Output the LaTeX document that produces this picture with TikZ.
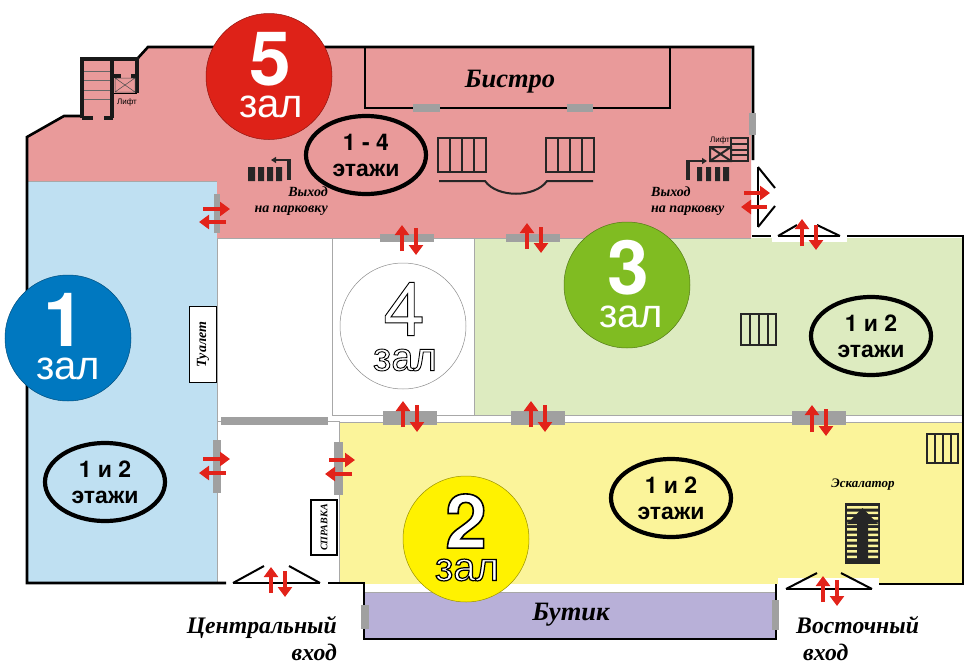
\documentclass[tikz,border=0pt]{standalone}
\usepackage{fontspec}
\setmainfont{Liberation Serif}
\setsansfont{Liberation Sans}
\newfontfamily\digitfont{TeX Gyre Heros}
\usetikzlibrary{arrows.meta, positioning, shapes.geometric}
\definecolor{hallred}{HTML}{E99A9A}
\definecolor{hallblue}{HTML}{BFE0F2}
\definecolor{hallgreen}{HTML}{DDEBC0}
\definecolor{hallyellow}{HTML}{FBF49A}
\definecolor{hallpurple}{HTML}{B8B0D8}
\definecolor{doorgray}{HTML}{A0A0A0}
\definecolor{thingray}{HTML}{A8A8A8}
\definecolor{arrowred}{HTML}{E2231A}
\definecolor{discred}{HTML}{DE2218}
\definecolor{discblue}{HTML}{0078C0}
\definecolor{discgreen}{HTML}{80BC22}
\definecolor{discyellow}{HTML}{FFF200}
% white letters with a black edge
\newcommand{\edgedtext}[2]{\special{pdf:code 2 Tr #1 w 0 G 1 g}#2\special{pdf:code 0 Tr}}

\begin{document}
\begin{tikzpicture}[
  x=1pt, y=-1pt,
  wall line/.style={draw=black, line width=2.6pt},
  stair wall/.style={draw=black!90, line width=3.6pt},
  thin wall/.style={draw=thingray, line width=0.9pt},
  leaf line/.style={draw=black, line width=2pt},
  door slab/.style={fill=doorgray},
  pass arrow/.style={draw=arrowred, line width=3.2pt, -{Triangle[length=10pt,width=14pt]}},
  stair box/.style={draw=black!85, line width=2pt},
  stair bar/.style={fill=black!85},
  hall disc/.style={circle, minimum size=126pt, inner sep=0pt, line width=0.5pt},
  hall digit/.style={font=\fontsize{75}{75}\selectfont\digitfont\bfseries, inner sep=0pt},
  hall word/.style={font=\fontsize{40}{40}\selectfont\sffamily, inner sep=0pt},
  floor oval/.style={ellipse, draw=black, line width=4.2pt, minimum width=120pt, minimum height=78pt, inner sep=0pt,
    align=center, font=\fontsize{23}{26}\selectfont\sffamily\bfseries},
  shop label/.style={font=\fontsize{26.5}{26.5}\selectfont\bfseries\itshape, inner sep=0pt},
  entry label/.style={font=\fontsize{23.7}{27}\selectfont\bfseries\itshape, inner sep=0pt},
  exit label/.style={font=\fontsize{14}{16}\selectfont\bfseries\itshape, inner sep=0pt},
  desk box/.style={draw=black, line width=1.4pt, fill=white, inner sep=0pt, rotate=90,
    font=\fontsize{10}{10}\selectfont\bfseries\itshape},
  lift label/.style={font=\fontsize{8}{8}\selectfont\sffamily, inner sep=0pt}
]
  \useasboundingbox (0,0) rectangle (970,664);

  % floors
  \fill[hallred] (27,137) -- (64,116) -- (82,116) -- (82,58) -- (138,58) -- (148,47) -- (751,47) -- (751,238) -- (217,238) -- (217,181) -- (27,181) -- cycle;
  \fill[hallblue] (27,181) rectangle (217,583);
  \fill[hallgreen] (474,238) rectangle (962,415);
  \fill[hallyellow] (339,422) rectangle (962,584);
  \fill[hallpurple] (364,592) rectangle (776,639);
  \fill[white] (778,578) rectangle (879,590);
  \fill[white] (772,233) rectangle (847,242);

  % thin walls
  \draw[thin wall] (217,238) -- (751,238);
  \draw[thin wall] (217,238) -- (217,583);
  \draw[thin wall] (332,238) -- (332,415) -- (474,415) -- (474,238);
  \draw[thin wall] (474,415) -- (962,415);
  \draw[thin wall] (217,421) -- (339,421) -- (339,583);
  \draw[thin wall] (339,422) -- (962,422);
  \draw[thin wall] (364,592) -- (776,592);
  \draw[thin wall] (27,181) -- (217,181);

  % outer walls
  \draw[wall line] (226,583) -- (27,583) -- (27,137) -- (64,116) -- (82,116);
  \draw[wall line] (138,58) -- (148,47) -- (753,47) -- (753,160);
  \draw[wall line] (328,583) -- (364,583) -- (364,639) -- (776,639) -- (776,584);
  \draw[wall line] (879,584) -- (963,584) -- (963,236) -- (847,236);
  \draw[wall line] (752,236) -- (771,236);

  % Bistro
  \draw[wall line, line width=2pt] (365,47) -- (365,108) -- (670,108) -- (670,47);
  \node[shop label] (bistro) at (510,82) {Бистро};
  \fill[door slab] (413,104) rectangle (440,112);
  \fill[door slab] (567,104) rectangle (593,112);

  % left lift and stairs
  \draw[stair wall] (82,118) -- (82,59) -- (137,59) -- (137,93);
  \draw[stair wall] (112,59) -- (112,118);
  \draw[stair wall] (82,118) -- (93,118);
  \draw[stair wall] (104,118) -- (113,118);
  \draw[stair wall] (114,76) -- (121,76);
  \draw[stair wall] (131,76) -- (137,76);
  \draw[black, line width=0.8pt] (114,93) -- (137,93);
  \draw[black!70, line width=0.5pt] (115,78) rectangle (135,92) (115,78) -- (135,92) (115,92) -- (135,78);
  \draw[black!60, line width=0.6pt] (84,71) -- (110,71) (84,80) -- (110,80) (84,90) -- (110,90) (84,99) -- (110,99);
  \node[lift label] (lift left) at (127,102) {Лифт};

  % left exit
  \fill[stair bar] (248,167) rectangle (255,181) (258,167) rectangle (264,181) (267,167) rectangle (273,181) (276,167) rectangle (282,181);
  \fill[stair bar] (287,160) rectangle (291,180);
  \draw[black!85, line width=1.5pt, -{Triangle[length=5pt,width=6pt]}] (291,160) -- (271,160);
  \node[exit label, align=right, anchor=north east] (exit left) at (328,187) {Выход\\на парковку};

  % centre stairs
  \draw[stair box] (438,138) rectangle (486,172) (450,138) -- (450,172) (462,138) -- (462,172) (474,138) -- (474,172);
  \draw[stair box] (546,138) rectangle (594,172) (558,138) -- (558,172) (570,138) -- (570,172) (582,138) -- (582,172);
  \draw[stair box] (439,181) -- (485,181) .. controls (497,198) and (535,198) .. (547,181) -- (593,181);

  % right exit, lift and stairs
  \fill[door slab] (749,113) rectangle (756,135);
  \draw[black!85, line width=2pt] (710,147) rectangle (731,161) (710,147) -- (731,161) (710,161) -- (731,147);
  \draw[black!85, line width=2pt] (731,138) rectangle (748,161) (731,144) -- (748,144) (731,150) -- (748,150) (731,155) -- (748,155);
  \node[lift label] (lift right) at (720,140) {Лифт};
  \fill[stair bar] (697,167) rectangle (702,181) (706,167) rectangle (711,181) (715,167) rectangle (720,181) (723,167) rectangle (729,181);
  \fill[stair bar] (686,161) rectangle (690,180);
  \draw[black!85, line width=1.5pt, -{Triangle[length=5pt,width=6pt]}] (686,161) -- (707,161);
  \node[exit label, align=left, anchor=north west] (exit right) at (651,187) {Выход\\на парковку};

  % doors of hall 5
  \fill[door slab] (214,194) rectangle (220,233);
  \draw[pass arrow] (203,209) -- (230,209);
  \draw[pass arrow] (226,222) -- (199,222);
  \fill[door slab] (380,234) rectangle (434,242);
  \draw[pass arrow] (402,251) -- (402,225);
  \draw[pass arrow] (416,228) -- (416,255);
  \fill[door slab] (506,234) rectangle (560,242);
  \draw[pass arrow] (527,249) -- (527,223);
  \draw[pass arrow] (541,227) -- (541,253);

  % parking door
  \draw[leaf line] (758,167) -- (758,227);
  \draw[leaf line] (758,167) -- (775,188);
  \draw[leaf line] (758,227) -- (775,206);
  \draw[pass arrow] (744,193) -- (770,193);
  \draw[pass arrow] (767,207) -- (741,207);

  % door to hall 3
  \draw[leaf line] (778,236) -- (840,236);
  \draw[leaf line] (778,236) -- (797,225);
  \draw[leaf line] (840,236) -- (817,225);
  \draw[pass arrow] (802,246) -- (802,219);
  \draw[pass arrow] (816,225) -- (816,250);

  % doors between halls
  \fill[door slab] (383,411) rectangle (437,425);
  \draw[pass arrow] (403,427) -- (403,401);
  \draw[pass arrow] (417,405) -- (417,432);
  \fill[door slab] (511,411) rectangle (565,425);
  \draw[pass arrow] (531,427) -- (531,401);
  \draw[pass arrow] (545,405) -- (545,432);
  \fill[door slab] (792,411) rectangle (846,425);
  \draw[pass arrow] (812,432) -- (812,405);
  \draw[pass arrow] (826,409) -- (826,436);

  % lobby
  \fill[door slab] (221,417) rectangle (328,425);
  \fill[door slab] (213,440) rectangle (221,493);
  \draw[pass arrow] (203,459) -- (230,459);
  \draw[pass arrow] (226,473) -- (199,473);
  \fill[door slab] (334,442) rectangle (343,495);
  \draw[pass arrow] (329,460) -- (355,460);
  \draw[pass arrow] (352,474) -- (325,474);
  \node[desk box, minimum width=76pt, minimum height=27pt, font=\fontsize{14}{14}\selectfont\bfseries\itshape] (toilet) at (203,344.5) {Туалет};
  \node[desk box, line width=2pt, minimum width=55pt, minimum height=26pt] (info) at (324,527.5) {СПРАВКА};

  % central entrance
  \draw[leaf line] (233,583) -- (320,583);
  \draw[leaf line] (233,583) -- (264,566);
  \draw[leaf line] (320,583) -- (289,566);
  \draw[pass arrow] (271,593) -- (271,567);
  \draw[pass arrow] (285,571) -- (285,597);
  \node[entry label, align=right, anchor=north east] (entry centre) at (337,616) {Центральный\\вход};

  % boutique
  \node[shop label] (boutique) at (571,615) {Бутик};
  \fill[door slab] (361,605) rectangle (369,629);
  \fill[door slab] (772,600) rectangle (779,630);

  % east entrance
  \draw[leaf line] (786,589) -- (872,589);
  \draw[leaf line] (786,589) -- (817,573);
  \draw[leaf line] (872,589) -- (841,573);
  \draw[pass arrow] (823,602) -- (823,576);
  \draw[pass arrow] (837,580) -- (837,606);
  \node[entry label, align=left, anchor=north west] (entry east) at (796,616) {Восточный\\\hspace*{7pt}вход};

  % stairs in halls 3 and 2
  \draw[stair box] (741,314) rectangle (776,345) (750,314) -- (750,345) (759,314) -- (759,345) (768,314) -- (768,345);
  \draw[stair box] (927,434) rectangle (958,463) (935,434) -- (935,463) (943,434) -- (943,463) (951,434) -- (951,463);

  % escalator
  \node[font=\fontsize{13}{13}\selectfont\bfseries\itshape, inner sep=0pt] (escalator) at (863,485) {Эскалатор};
  \fill[black!85] (845,503) rectangle (880,564);
  \fill[hallyellow] (847,506) rectangle (878,508.5) (847,511.5) rectangle (878,514) (847,517) rectangle (878,519.5) (847,522.5) rectangle (878,525) (847,528) rectangle (878,530.5) (847,533.5) rectangle (878,536) (847,539) rectangle (878,541.5) (847,544.5) rectangle (878,547) (847,550) rectangle (878,552.5) (847,555.5) rectangle (878,558);
  \fill[black!85] (862.5,508) -- (878,524) -- (868,524) -- (868,559) -- (857,559) -- (857,524) -- (847,524) -- cycle;

  % oval labels
  \node[floor oval] (oval five) at (366,155) {{\digitfont 1 - 4}\\этажи};
  \node[floor oval] (oval three) at (871,336) {{\digitfont 1} и {\digitfont 2}\\этажи};
  \node[floor oval] (oval two) at (671,498) {{\digitfont 1} и {\digitfont 2}\\этажи};
  \node[floor oval] (oval one) at (105,482) {{\digitfont 1} и {\digitfont 2}\\этажи};

  % hall 5
  \node[hall disc, fill=discred, draw=black!35!discred] (disc five) at (269,76.5) {};
  \node[hall digit, text=white] (digit five) at (270,59) {5};
  \node[hall word, text=white] (word five) at (271,107) {зал};

  % hall 1
  \node[hall disc, fill=discblue, draw=black!35!discblue] (disc one) at (68,338) {};
  \node[hall digit, text=white] (digit one) at (64,320) {1};
  \node[hall word, text=white] (word one) at (68,369) {зал};

  % hall 3
  \node[hall disc, fill=discgreen, draw=black!35!discgreen] (disc three) at (627,285) {};
  \node[hall digit, text=white] (digit three) at (628,268) {3};
  \node[hall word, text=white] (word three) at (631,317) {зал};

  % hall 4
  \node[hall disc, draw=black!45, fill=white] (disc four) at (403,326) {};
  \node[hall digit, font=\fontsize{75}{75}\selectfont\digitfont] (digit four) at (404,309) {\edgedtext{0.9}{4}};
  \node[hall word] (word four) at (405,360) {\edgedtext{0.9}{зал}};

  % hall 2
  \node[hall disc, fill=discyellow, draw=black!40!discyellow] (disc two) at (466,539) {};
  \node[hall digit] (digit two) at (466,521) {\edgedtext{1.6}{2}};
  \node[hall word] (word two) at (467,570) {\edgedtext{1.2}{зал}};
\end{tikzpicture}
\end{document}
